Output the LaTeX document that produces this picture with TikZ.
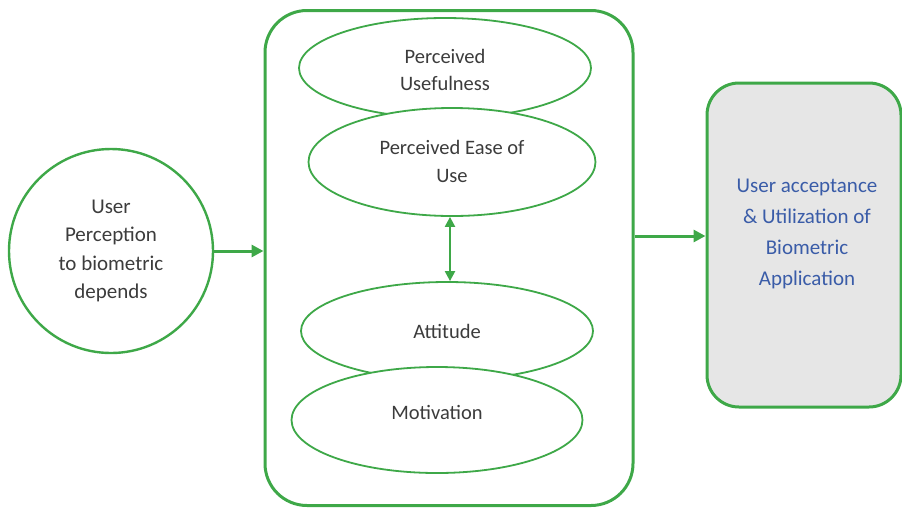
\documentclass[tikz,border=0pt]{standalone}
\usepackage{fontspec}
\setmainfont{Carlito}
\usetikzlibrary{shapes.geometric,arrows.meta}
\definecolor{grn}{RGB}{62,168,72}
\definecolor{txtgray}{RGB}{60,60,60}
\definecolor{txtblue}{RGB}{58,92,168}
\definecolor{boxgray}{RGB}{230,230,230}
\begin{document}
\begin{tikzpicture}[x=1pt,y=-1pt,
  oval/.style={ellipse,draw=grn,line width=1.8pt,fill=white,inner sep=0pt,
    text=txtgray,align=center,font=\fontsize{20.5}{27}\selectfont},
  lbl/.style={text=txtgray,align=center,font=\fontsize{20.5}{27}\selectfont},
  conn/.style={draw=grn,line width=3pt,-{Triangle[length=12pt,width=12pt]}},
  dconn/.style={draw=grn,line width=2.2pt,{Triangle[length=10pt,width=10pt]}-{Triangle[length=10pt,width=10pt]}}]
\useasboundingbox (0,0) rectangle (902,507);
% left circle
\node[circle,draw=grn,line width=2.4pt,minimum size=204pt,inner sep=0pt,
  text=txtgray,align=center,font=\fontsize{21}{28.5}\selectfont] (perc) at (111,251)
  {User\\Perception\\to biometric\\depends};
% big container
\node[draw=grn,line width=3pt,rounded corners=42pt,minimum width=368pt,minimum height=495pt,inner sep=0pt] (box) at (449,258) {};
% ellipses
\node[oval,minimum width=292pt,minimum height=100pt] (pu) at (445,68) {};
\node[lbl] (putext) at (445,70) {Perceived\\Usefulness};
\node[oval,minimum width=287pt,minimum height=108pt] (peou) at (452,162) {};
\node[lbl,font=\fontsize{20.5}{28}\selectfont] (peoutext) at (452,161) {Perceived Ease of\\Use};
\node[oval,minimum width=292pt,minimum height=98pt] (att) at (447,331) {Attitude};
\node[oval,minimum width=291pt,minimum height=106pt] (mot) at (437,420) {};
\node[lbl] (mottext) at (437,412) {Motivation};
% right box
\node[draw=grn,line width=3pt,fill=boxgray,rounded corners=32pt,minimum width=194pt,minimum height=324pt,inner sep=0pt] (acc) at (804,245) {};
\node[text=txtblue,align=center,font=\fontsize{21}{31}\selectfont] (acctext) at (807,234)
  {User acceptance\\\& Utilization of\\Biometric\\Application};
% connectors
\draw[conn] (perc.east) -- (perc.east -| box.west);
\draw[conn] (box.east |- 0,236) -- (acc.west |- 0,236);
\draw[dconn] (peou.south -| 450,0) -- (att.north -| 450,0);
\end{tikzpicture}
\end{document}
